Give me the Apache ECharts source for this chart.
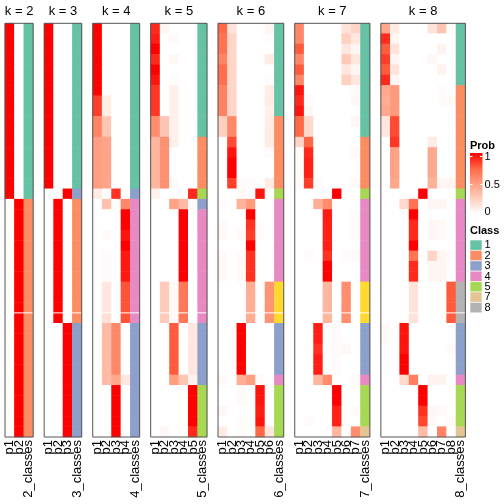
<!DOCTYPE html>
<html><head><meta charset="utf-8">
<script src="https://cdn.jsdelivr.net/npm/echarts@6/dist/echarts.min.js"></script>
<style>html,body{margin:0;padding:0;background:#fff}#c{width:504px;height:504px}</style>
</head><body><div id="c"></div>
<script>
const panelKs = [2, 3, 4, 5, 6, 7, 8];

const probK2 = [
[1,0],[1,0],[1,0],[1,0],[1,0],[1,0],[1,0],[1,0],[1,0],[1,0],
[1,0],[1,0],[1,0],[1,0],[1,0],[1,0],[1,0],[0,1],[0,1],[0,1],
[0,1],[0,1],[0,1],[0,1],[0,1],[0,1],[0,1],[0,1],[0,1],[0,1],
[0,1],[0,1],[0,1],[0,1],[0,1],[0,1],[0,1],[0,1],[0,1],[0,1]];
const classK2 = [1,1,1,1,1,1,1,1,1,1,1,1,1,1,1,1,1,2,2,2,2,2,2,2,2,2,2,2,2,2,2,2,2,2,2,2,2,2,2,2];

const probK3 = [
[1,0,0],[1,0,0],[1,0,0],[1,0,0],[1,0,0],[1,0,0],[1,0,0],[1,0,0],[1,0,0],[1,0,0],
[1,0,0],[1,0,0],[1,0,0],[1,0,0],[1,0,0],[1,0,0],[0,0,1],[0,1,0],[0,1,0],[0,1,0],
[0,1,0],[0,1,0],[0,1,0],[0,1,0],[0,1,0],[0,1,0],[0,1,0],[0,1,0],[0,1,0],[0,0,1],
[0,0,1],[0,0,1],[0,0,1],[0,0,1],[0,0,1],[0,0,1],[0,0,1],[0,0,1],[0,0,1],[0,0,1]];
const classK3 = [1,1,1,1,1,1,1,1,1,1,1,1,1,1,1,1,3,2,2,2,2,2,2,2,2,2,2,2,2,3,3,3,3,3,3,3,3,3,3,3];

const probK4 = [
[1,0,0,0],[1,0,0,0],[1,0,0,0],[1,0,0,0],[1,0,0,0],[1,0,0,0],[1,0,0,0],
[0.85,0.1,0,0],[0.85,0.1,0,0],
[0.62,0.3,0,0],[0.62,0.3,0,0],
[0.5,0.47,0,0],[0.5,0.47,0,0],[0.5,0.47,0,0],[0.5,0.47,0,0],[0.5,0.47,0,0],
[0.1,0,0.88,0],
[0,0.32,0.02,0.6],
[0,0,0,1],[0,0,0,1],
[0,0.03,0,0.95],
[0,0,0,1],
[0,0.02,0,0.94],[0,0.02,0,0.94],[0,0.02,0,0.94],
[0,0.13,0,0.8],[0,0.13,0,0.8],[0,0.13,0,0.8],
[0,0.16,0,0.8],
[0,0.35,0.6,0],[0,0.35,0.6,0],[0,0.35,0.6,0],[0,0.35,0.6,0],[0,0.35,0.6,0],
[0,0.35,0.45,0.13],
[0,0,1,0],[0,0,1,0],[0,0,1,0],[0,0,1,0],[0,0,1,0]];
const classK4 = [1,1,1,1,1,1,1,1,1,1,1,1,1,1,1,1,3,4,4,4,4,4,4,4,4,4,4,4,4,3,3,3,3,3,3,3,3,3,3,3];

const probK5 = [
[0.9,0.05,0,0,0],[0.93,0,0.03,0,0],[1,0,0,0,0],[0.9,0,0.04,0,0],[1,0,0,0,0],[0.95,0,0.02,0,0],
[0.87,0,0.08,0,0],[0.87,0,0.08,0,0],[0.87,0,0.08,0,0],
[0.58,0.3,0.08,0,0],[0.58,0.3,0.08,0,0],
[0.38,0.56,0.08,0,0],
[0.38,0.56,0,0,0],[0.38,0.56,0,0,0],[0.38,0.56,0,0,0],
[0.38,0.56,0.03,0,0],
[0.07,0,0,0,0.9],
[0,0,0.48,0.36,0.02],
[0,0,0,1,0],[0,0,0,1,0],[0,0,0,1,0],[0,0,0,1,0],[0,0,0,1,0],[0,0,0,1,0],[0,0,0,1,0],
[0,0.27,0.03,0.68,0],[0,0.27,0.03,0.68,0],[0,0.27,0.03,0.68,0],[0,0.27,0.03,0.68,0],
[0,0,0.78,0,0.13],[0,0,0.78,0,0.13],[0,0,0.78,0,0.13],[0,0,0.78,0,0.13],[0,0,0.78,0,0.13],
[0,0,0.5,0.3,0.08],
[0,0,0,0,1],[0,0,0,0,1],[0,0,0,0,1],[0,0,0,0,1],
[0,0.04,0,0,0.9]];
const classK5 = [1,1,1,1,1,1,1,1,1,1,1,2,2,2,2,2,5,3,4,4,4,4,4,4,4,4,4,4,4,3,3,3,3,3,3,5,5,5,5,5];

const probK6 = [
[0.75,0.15,0,0,0,0.05],[0.7,0.22,0,0,0,0.02],[0.7,0.22,0,0,0,0],[0.62,0.22,0,0,0,0.1],
[0.72,0.22,0,0,0,0],[0.72,0.22,0,0,0,0.02],[0.63,0.22,0,0,0,0.1],[0.63,0.22,0,0,0,0.1],
[0.63,0.22,0,0,0,0.08],
[0.25,0.6,0,0,0,0.1],[0.25,0.6,0,0,0,0.1],
[0,0.82,0,0,0,0.1],[0,0.95,0,0,0,0.02],[0,1,0,0,0,0],[0,1,0,0,0,0],[0,0.85,0.02,0.02,0,0.1],
[0,0,0.03,0,0.95,0],
[0.02,0,0.4,0.52,0,0],
[0,0,0,1,0,0],[0.03,0,0,0.88,0.02,0],[0.03,0,0.03,0.85,0.02,0],[0,0,0,1,0,0],
[0.03,0,0.03,0.88,0,0],[0.03,0,0.03,0.88,0,0],[0.03,0,0.03,0.88,0,0],
[0,0,0,0.42,0,0.55],[0,0,0,0.42,0,0.55],[0,0,0,0.42,0,0.55],[0,0,0,0.42,0,0.55],
[0,0,1,0,0,0],[0,0,1,0,0,0],[0,0,1,0,0,0],[0,0,1,0,0,0],[0,0,1,0,0,0],
[0.03,0,0.42,0.5,0.02,0],
[0,0,0.03,0,0.95,0],[0,0,0.03,0,0.95,0],[0.04,0,0,0,0.93,0],[0,0,0.02,0,0.95,0],
[0.1,0,0.02,0,0.75,0.13]];
const classK6 = [1,1,1,1,1,1,1,1,1,2,2,2,2,2,2,2,5,4,4,4,4,4,4,4,4,6,6,6,6,3,3,3,3,3,4,5,5,5,5,5];

const probK7 = [
[0.6,0,0,0,0,0.15,0.22],[0.6,0,0,0,0,0.25,0.13],[0.78,0,0,0,0,0.13,0.05],[0.6,0,0,0,0,0.28,0.13],
[0.78,0,0,0,0,0.13,0.05],[0.6,0,0,0,0,0.25,0.13],[0.95,0,0,0,0,0,0.02],[0.9,0.02,0,0,0,0,0.04],
[0.95,0.04,0,0,0,0,0],[0.75,0.2,0,0,0,0,0.04],[0.75,0.2,0,0,0,0,0],
[0.22,0.75,0,0,0,0,0],[0.02,0.9,0,0,0,0,0.03],[0.02,0.92,0,0,0,0,0],[0.02,0.92,0,0,0,0,0],
[0.02,0.85,0.02,0,0,0,0.03],
[0,0,0,0,1,0,0],
[0,0,0.42,0.58,0,0,0],
[0,0,0,0.93,0,0,0.02],[0,0,0,0.92,0,0,0.03],[0,0,0,0.92,0,0,0.02],[0,0,0,0.93,0,0,0],
[0,0.02,0,0.88,0,0.02,0.03],[0,0,0,1,0,0,0],[0,0,0,1,0,0,0],
[0,0,0,0.38,0,0.58,0],[0,0,0,0.38,0,0.58,0],[0,0,0,0.38,0,0.58,0],[0,0,0,0.38,0,0.58,0],
[0,0,0.93,0,0.02,0,0],[0,0,0.93,0,0.02,0,0],[0,0,0.88,0,0.02,0.04,0],[0,0,0.93,0,0.02,0,0],
[0,0,0.93,0,0.02,0,0],
[0,0,0.38,0.58,0,0,0.02],
[0,0,0,0,1,0,0],[0,0,0,0,1,0,0],[0,0,0,0,0.92,0,0.02],[0,0.02,0,0,0.92,0,0],
[0,0,0,0,0.38,0,0.58]];
const classK7 = [1,1,1,1,1,1,1,1,1,1,1,2,2,2,2,2,5,4,4,4,4,4,4,4,4,6,6,6,6,3,3,3,3,3,4,5,5,5,5,7];

const probK8 = [
[0.45,0.1,0,0,0,0.15,0.3,0.02],[0.9,0.05,0,0,0,0,0,0],[0.78,0.15,0,0,0,0,0.06,0],
[0.85,0.05,0,0,0,0.04,0,0],[0.78,0.15,0,0,0,0,0.06,0],[0.9,0.05,0,0,0,0,0,0],
[0.45,0.52,0,0,0,0,0.02,0],[0.42,0.52,0,0,0,0,0.02,0.03],[0.45,0.52,0,0,0,0,0,0],
[0.13,0.82,0,0,0,0,0,0],[0.13,0.82,0,0,0,0,0,0],[0,0.87,0,0,0,0.1,0,0],
[0,0.48,0,0,0,0.45,0,0],[0,0.48,0,0,0,0.45,0,0],[0,0.48,0,0,0,0.45,0,0],
[0,0.46,0,0,0,0.4,0.05,0.05],
[0,0,0,0,1,0,0,0],
[0,0,0.2,0.7,0,0.05,0.05,0],
[0,0,0,1,0,0,0,0],[0,0,0,0.9,0,0.04,0.03,0],[0,0,0,0.9,0,0.04,0.03,0],[0,0,0,1,0,0,0,0],
[0,0,0,0.7,0,0.22,0.05,0.02],[0,0,0,0.9,0,0.05,0.05,0],[0,0,0,0.9,0,0.05,0.05,0],
[0,0,0,0.15,0,0,0,0.78],[0,0,0,0.15,0,0,0,0.78],[0,0,0,0.15,0,0,0,0.78],[0,0,0,0.15,0,0,0,0.78],
[0.03,0,0.95,0,0,0,0,0],[0.03,0,0.95,0,0,0,0,0],[0,0,0.95,0,0,0,0,0.03],[0,0,1,0,0,0,0,0],
[0,0,1,0,0,0,0,0],
[0,0,0.2,0.65,0,0.06,0.06,0],
[0,0,0,0,1,0,0,0],[0,0,0,0,1,0,0,0],[0,0,0,0,0.88,0.04,0.03,0],[0,0,0,0,0.83,0.03,0,0.03],
[0,0,0,0,0.35,0,0.62,0]];
const classK8 = [1,1,1,1,1,1,2,2,2,2,2,2,2,2,2,2,5,4,4,4,4,4,4,4,4,8,8,8,8,3,3,3,3,3,4,5,5,5,5,7];

const classColors = {1:'#66C2A5',2:'#FC8D62',3:'#8DA0CB',4:'#E78AC3',5:'#A6D854',6:'#FFD92F',7:'#E5C494',8:'#B3B3B3'};
const legendClasses = [1, 2, 3, 4, 5, 7, 8];
const probTicks = ['1', '0.5', '0'];
const probColors = ['#FFFFFF', '#FFCFBF', '#FF9E81', '#FF6846', '#FF0000'];
const splitRow = 28;

const probs = [probK2, probK3, probK4, probK5, probK6, probK7, probK8];
const classes = [classK2, classK3, classK4, classK5, classK6, classK7, classK8];

const FONT = '"Liberation Sans", Arial, Helvetica, sans-serif';
const COLW = 9.39, GAP = 11, X0 = 5, TOP = 23.3, H = 413.7;

const grids = [], xAxes = [], yAxes = [], series = [], graphics = [];
const probIdx = [], classIdx = [], panelBoxes = [];
let colsBefore = 0;
panelKs.forEach((k, i) => {
  const ncol = k + 1;
  const left = X0 + colsBefore * COLW + i * GAP;
  const width = ncol * COLW;
  colsBefore += ncol;
  panelBoxes.push({ left: left, width: width });
  grids.push({ left: left, top: TOP, width: width, height: H, containLabel: false });
  const cats = [];
  for (let c = 1; c <= k; c++) cats.push('p' + c);
  cats.push(k + '_classes');
  xAxes.push({
    type: 'category', gridIndex: i, data: cats, position: 'bottom',
    axisLine: { show: false }, axisTick: { show: false }, splitLine: { show: false },
    axisLabel: { rotate: 90, interval: 0, fontSize: 13, color: '#000', margin: 3, fontFamily: FONT }
  });
  const rows = probs[i].map((_, r) => String(r));
  yAxes.push({
    type: 'category', gridIndex: i, data: rows, inverse: true,
    axisLine: { show: false }, axisTick: { show: false }, axisLabel: { show: false }, splitLine: { show: false }
  });
  const pd = [];
  probs[i].forEach((row, r) => row.forEach((v, c) => pd.push([c, r, v])));
  probIdx.push(series.length);
  series.push({ type: 'heatmap', xAxisIndex: i, yAxisIndex: i, data: pd, emphasis: { disabled: true }, progressive: 0, animation: false });
  const cd = classes[i].map((v, r) => [k, r, v]);
  classIdx.push(series.length);
  series.push({ type: 'heatmap', xAxisIndex: i, yAxisIndex: i, data: cd, emphasis: { disabled: true }, progressive: 0, animation: false });
  graphics.push({ type: 'rect', z: 100, silent: true, shape: { x: left, y: TOP, width: width, height: H }, style: { fill: 'none', stroke: '#555', lineWidth: 1 } });
  graphics.push({ type: 'text', z: 100, x: left + width / 2, y: 11, style: { text: 'k = ' + k, font: '13px ' + FONT, fill: '#000', align: 'center', verticalAlign: 'middle' } });
});

// Prob legend
const LX = 470;
graphics.push({ type: 'text', x: LX, y: 146, style: { text: 'Prob', font: 'bold 11px ' + FONT, fill: '#000', verticalAlign: 'middle' } });
graphics.push({ type: 'rect', shape: { x: LX, y: 153, width: 12.5, height: 61 },
  style: { fill: new echarts.graphic.LinearGradient(0, 0, 0, 1, probColors.slice().reverse().map((c, j, a) => ({ offset: j / (a.length - 1), color: c }))) } });
const tickYs = [156.5, 184.5, 211.5];
probTicks.forEach((t, j) => {
  graphics.push({ type: 'text', x: LX + 14.5, y: tickYs[j], style: { text: t, font: '11px ' + FONT, fill: '#000', verticalAlign: 'middle' } });
  graphics.push({ type: 'line', shape: { x1: LX, y1: tickYs[j], x2: LX + 2.5, y2: tickYs[j] }, style: { stroke: '#fff', lineWidth: 1 } });
  graphics.push({ type: 'line', shape: { x1: LX + 10, y1: tickYs[j], x2: LX + 12.5, y2: tickYs[j] }, style: { stroke: '#fff', lineWidth: 1 } });
});
// Class legend
graphics.push({ type: 'text', x: LX, y: 230.5, style: { text: 'Class', font: 'bold 11px ' + FONT, fill: '#000', verticalAlign: 'middle' } });
legendClasses.forEach((c, j) => {
  const y = 240 + j * 10.4;
  graphics.push({ type: 'rect', shape: { x: LX, y: y, width: 12, height: 10.4 }, style: { fill: classColors[c], stroke: '#fff', lineWidth: 0.6 } });
  graphics.push({ type: 'text', x: LX + 14.5, y: y + 5.4, style: { text: String(c), font: '11px ' + FONT, fill: '#000', verticalAlign: 'middle' } });
});

const chart = echarts.init(document.getElementById('c'), null, { renderer: 'canvas' });
chart.setOption({
  animation: false,
  backgroundColor: '#fff',
  grid: grids, xAxis: xAxes, yAxis: yAxes, series: series,
  visualMap: [
    { type: 'continuous', show: false, min: 0, max: 1, seriesIndex: probIdx, dimension: 2, inRange: { color: probColors } },
    { type: 'piecewise', show: false, seriesIndex: classIdx, dimension: 2,
      pieces: Object.keys(classColors).map(c => ({ value: Number(c), color: classColors[c] })) }
  ],
  graphic: graphics
});

// thin white separator between rows splitRow-1 and splitRow, located through the y scale
const sepLines = panelKs.map((k, i) => {
  const yA = chart.convertToPixel({ yAxisIndex: i }, String(splitRow - 1));
  const yB = chart.convertToPixel({ yAxisIndex: i }, String(splitRow));
  const y = (yA + yB) / 2;
  return { type: 'line', z: 90, silent: true,
    shape: { x1: panelBoxes[i].left, y1: y, x2: panelBoxes[i].left + panelBoxes[i].width, y2: y },
    style: { stroke: '#fff', lineWidth: 1 } };
});
chart.setOption({ graphic: graphics.concat(sepLines) });
</script></body></html>
